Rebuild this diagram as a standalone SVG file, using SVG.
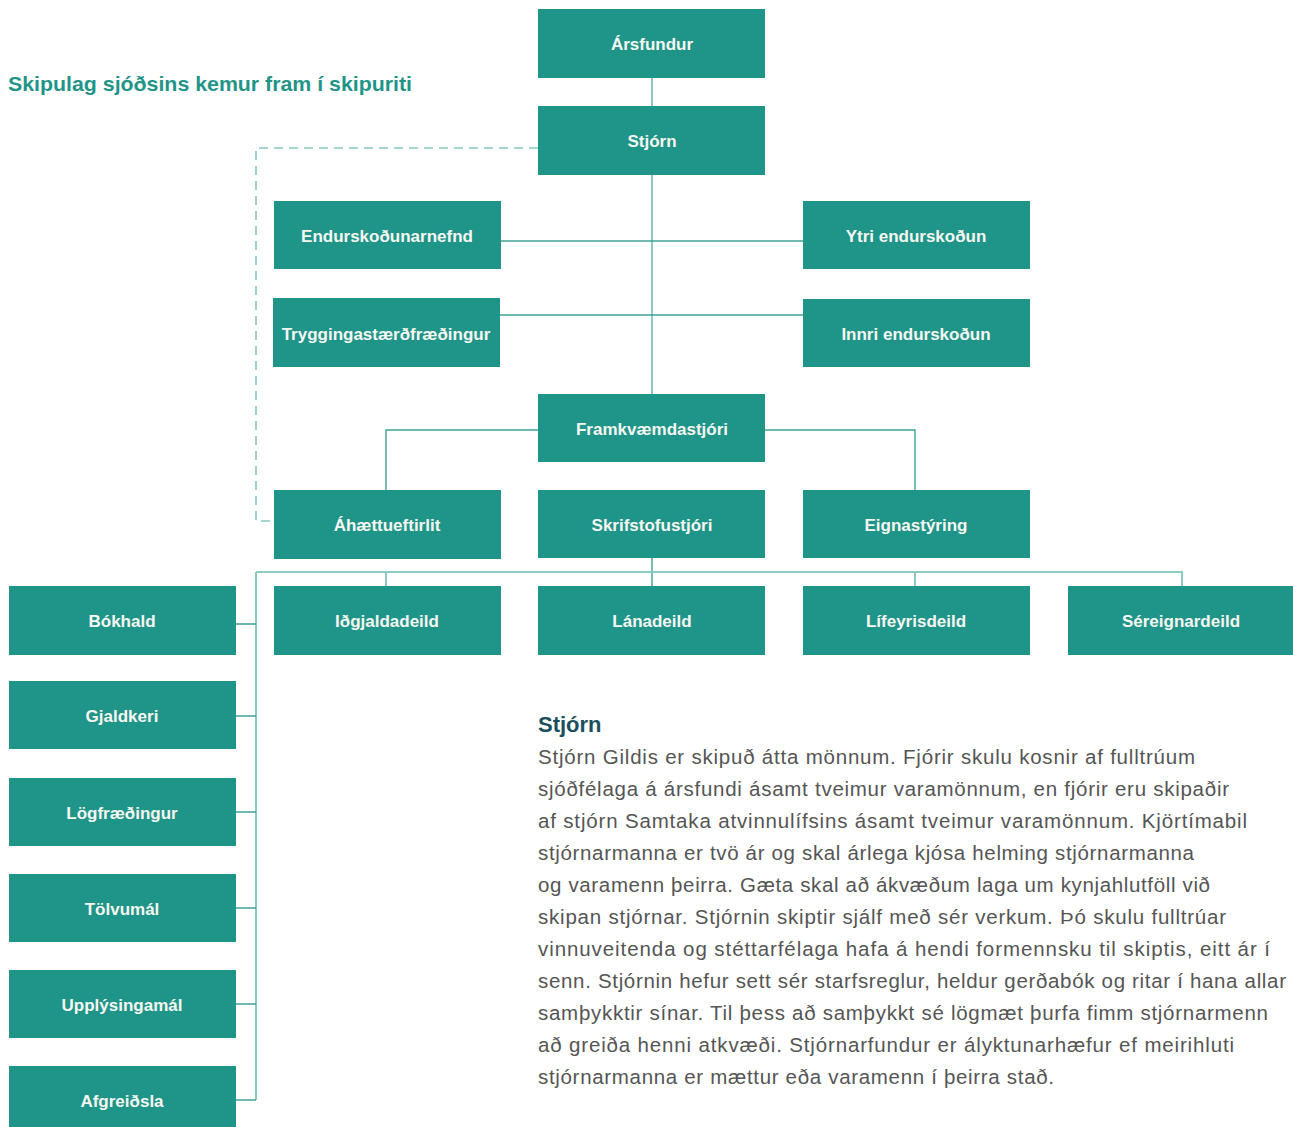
<svg xmlns="http://www.w3.org/2000/svg" width="1293" height="1127" viewBox="0 0 1293 1127">
<style>
.n{fill:#1f9488}
.l{font-family:"Liberation Sans",Arial,sans-serif;font-weight:bold;font-size:17px;fill:#f7f7f2;text-anchor:middle}
.c{fill:none;stroke:#3ea195;stroke-width:1.4}
.cl{fill:none;stroke:#8ccbc3;stroke-width:2}
.d{fill:none;stroke:#86c8c0;stroke-width:1.6;stroke-dasharray:9 6}
.b{font-family:"Liberation Sans",Arial,sans-serif;font-size:20.5px;fill:#555}
</style>
<rect width="1293" height="1127" fill="#fff"/>
<text x="8" y="91" font-family="Liberation Sans,Arial,sans-serif" font-weight="bold" font-size="21" fill="#1f9488" textLength="404" lengthAdjust="spacingAndGlyphs">Skipulag sjóðsins kemur fram í skipuriti</text>
<g id="connectors">
<path class="cl" d="M652 78V106"/>
<path class="cl" d="M652 175V394"/>
<path class="c" d="M501 241H803"/>
<path class="c" d="M500 315H803"/>
<path class="d" d="M538 148H256V521H274"/>
<path class="c" d="M538 430H386V490"/>
<path class="c" d="M765 430H915V490"/>
<path class="c" d="M652 558V586"/>
<path class="cl" d="M256 572H1182V586M386 572V586M915 572V586"/>
<path class="cl" d="M256 572V1100"/>
<path class="c" d="M236 624H256M236 716H256M236 812H256M236 908H256M236 1004H256M236 1100H256"/>
</g>
<g id="arsfundur"><rect class="n" x="538" y="9" width="227" height="69"/><text class="l" x="652" y="50">Ársfundur</text></g>
<g id="stjorn"><rect class="n" x="538" y="106" width="227" height="69"/><text class="l" x="652" y="147">Stjórn</text></g>
<g id="endurskodunarnefnd"><rect class="n" x="274" y="201" width="227" height="68"/><text class="l" x="387" y="242">Endurskoðunarnefnd</text></g>
<g id="ytri"><rect class="n" x="803" y="201" width="227" height="68"/><text class="l" x="916" y="242">Ytri endurskoðun</text></g>
<g id="trygginga"><rect class="n" x="273" y="298" width="227" height="69"/><text class="l" x="386" y="340">Tryggingastærðfræðingur</text></g>
<g id="innri"><rect class="n" x="803" y="299" width="227" height="68"/><text class="l" x="916" y="340">Innri endurskoðun</text></g>
<g id="framkvaemdastjori"><rect class="n" x="538" y="394" width="227" height="68"/><text class="l" x="652" y="435">Framkvæmdastjóri</text></g>
<g id="ahaettueftirlit"><rect class="n" x="274" y="490" width="227" height="69"/><text class="l" x="387" y="531">Áhættueftirlit</text></g>
<g id="skrifstofustjori"><rect class="n" x="538" y="490" width="227" height="68"/><text class="l" x="652" y="531">Skrifstofustjóri</text></g>
<g id="eignastyring"><rect class="n" x="803" y="490" width="227" height="68"/><text class="l" x="916" y="531">Eignastýring</text></g>
<g id="bokhald"><rect class="n" x="9" y="586" width="227" height="69"/><text class="l" x="122" y="627">Bókhald</text></g>
<g id="idgjaldadeild"><rect class="n" x="274" y="586" width="227" height="69"/><text class="l" x="387" y="627">Iðgjaldadeild</text></g>
<g id="lanadeild"><rect class="n" x="538" y="586" width="227" height="69"/><text class="l" x="652" y="627">Lánadeild</text></g>
<g id="lifeyrisdeild"><rect class="n" x="803" y="586" width="227" height="69"/><text class="l" x="916" y="627">Lífeyrisdeild</text></g>
<g id="sereignardeild"><rect class="n" x="1068" y="586" width="225" height="69"/><text class="l" x="1181" y="627">Séreignardeild</text></g>
<g id="gjaldkeri"><rect class="n" x="9" y="681" width="227" height="68"/><text class="l" x="122" y="722">Gjaldkeri</text></g>
<g id="logfraedingur"><rect class="n" x="9" y="778" width="227" height="68"/><text class="l" x="122" y="819">Lögfræðingur</text></g>
<g id="tolvumal"><rect class="n" x="9" y="874" width="227" height="68"/><text class="l" x="122" y="915">Tölvumál</text></g>
<g id="upplysingamal"><rect class="n" x="9" y="970" width="227" height="68"/><text class="l" x="122" y="1011">Upplýsingamál</text></g>
<g id="afgreidsla"><rect class="n" x="9" y="1066" width="227" height="61"/><text class="l" x="122" y="1107">Afgreiðsla</text></g>
<g id="textblock">
<text x="538" y="732" font-family="Liberation Sans,Arial,sans-serif" font-weight="bold" font-size="22" fill="#1b4f5e">Stjórn</text>
<text class="b" x="538" y="764" textLength="657">Stjórn Gildis er skipuð átta mönnum. Fjórir skulu kosnir af fulltrúum</text>
<text class="b" x="538" y="796" textLength="691">sjóðfélaga á ársfundi ásamt tveimur varamönnum, en fjórir eru skipaðir</text>
<text class="b" x="538" y="828" textLength="709">af stjórn Samtaka atvinnulífsins ásamt tveimur varamönnum. Kjörtímabil</text>
<text class="b" x="538" y="860" textLength="656">stjórnarmanna er tvö ár og skal árlega kjósa helming stjórnarmanna</text>
<text class="b" x="538" y="892" textLength="672">og varamenn þeirra. Gæta skal að ákvæðum laga um kynjahlutföll við</text>
<text class="b" x="538" y="924" textLength="688">skipan stjórnar. Stjórnin skiptir sjálf með sér verkum. Þó skulu fulltrúar</text>
<text class="b" x="538" y="956" textLength="732">vinnuveitenda og stéttarfélaga hafa á hendi formennsku til skiptis, eitt ár í</text>
<text class="b" x="538" y="988" textLength="748">senn. Stjórnin hefur sett sér starfsreglur, heldur gerðabók og ritar í hana allar</text>
<text class="b" x="538" y="1020" textLength="730">samþykktir sínar. Til þess að samþykkt sé lögmæt þurfa fimm stjórnarmenn</text>
<text class="b" x="538" y="1052" textLength="696">að greiða henni atkvæði. Stjórnarfundur er ályktunarhæfur ef meirihluti</text>
<text class="b" x="538" y="1084" textLength="516">stjórnarmanna er mættur eða varamenn í þeirra stað.</text>
</g>
</svg>
